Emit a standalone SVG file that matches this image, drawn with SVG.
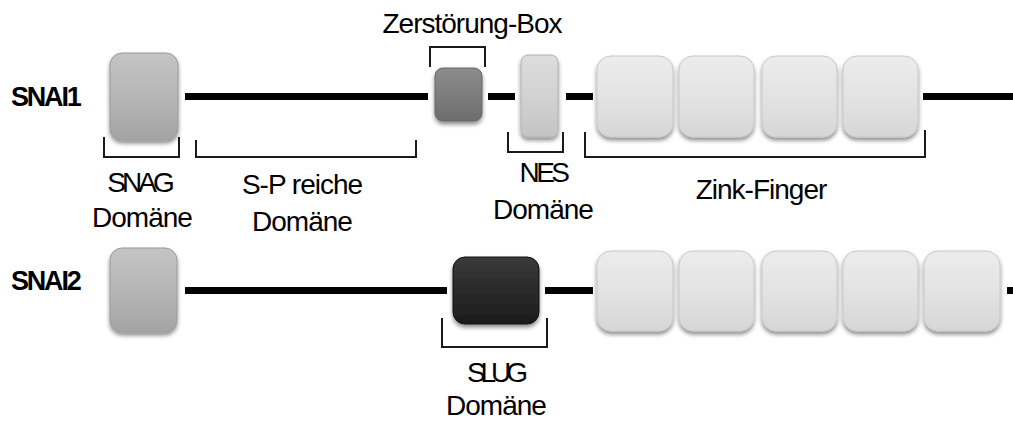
<svg xmlns="http://www.w3.org/2000/svg" width="1013" height="421" viewBox="0 0 1013 421">
  <style>
    .bb { fill: none; stroke: #1a1a1a; stroke-width: 2; }
    .ln { stroke: #000; stroke-width: 7; }
    .lbl { font-family: "Liberation Sans", Arial, sans-serif; font-size: 28px; fill: #000; text-anchor: middle; letter-spacing: -1px; }
    .tight { letter-spacing: -4px; }
    .row { font-family: "Liberation Sans", Arial, sans-serif; font-size: 27px; font-weight: bold; fill: #000; letter-spacing: -2.2px; }
    .sh { filter: url(#shadow); }
  </style>
  <defs>
    <filter id="shadow" x="-20%" y="-20%" width="140%" height="150%">
      <feGaussianBlur in="SourceAlpha" stdDeviation="2"/>
      <feOffset dy="3" result="b"/>
      <feComponentTransfer><feFuncA type="linear" slope="0.45"/></feComponentTransfer>
      <feMerge><feMergeNode/><feMergeNode in="SourceGraphic"/></feMerge>
    </filter>
    <linearGradient id="gMid" x1="0" y1="0" x2="0" y2="1">
      <stop offset="0" stop-color="#c4c4c4"/>
      <stop offset="0.5" stop-color="#b6b6b6"/>
      <stop offset="1" stop-color="#a4a4a4"/>
    </linearGradient>
    <linearGradient id="gDark" x1="0" y1="0" x2="0" y2="1">
      <stop offset="0" stop-color="#8c8c8c"/>
      <stop offset="0.5" stop-color="#7e7e7e"/>
      <stop offset="1" stop-color="#6c6c6c"/>
    </linearGradient>
    <linearGradient id="gLight" x1="0" y1="0" x2="0" y2="1">
      <stop offset="0" stop-color="#ececec"/>
      <stop offset="0.5" stop-color="#e3e3e3"/>
      <stop offset="1" stop-color="#d6d6d6"/>
    </linearGradient>
    <linearGradient id="gNes" x1="0" y1="0" x2="0" y2="1">
      <stop offset="0" stop-color="#dcdcdc"/>
      <stop offset="0.5" stop-color="#d2d2d2"/>
      <stop offset="1" stop-color="#c4c4c4"/>
    </linearGradient>
    <linearGradient id="gBlack" x1="0" y1="0" x2="0" y2="1">
      <stop offset="0" stop-color="#3a3a3a"/>
      <stop offset="0.5" stop-color="#2a2a2a"/>
      <stop offset="1" stop-color="#1c1c1c"/>
    </linearGradient>
  </defs>
  <rect width="1013" height="421" fill="#fff"/>

  <!-- backbone lines -->
  <g id="connectors">
    <line class="ln" x1="185" y1="96.5" x2="428" y2="96.5"/>
    <line class="ln" x1="488" y1="96.5" x2="515" y2="96.5"/>
    <line class="ln" x1="566" y1="96.5" x2="593" y2="96.5"/>
    <line class="ln" x1="923" y1="96.5" x2="1013" y2="96.5"/>
    <line class="ln" x1="185" y1="290.5" x2="447" y2="290.5"/>
    <line class="ln" x1="545" y1="290.5" x2="593" y2="290.5"/>
    <line class="ln" x1="1007" y1="290.5" x2="1013" y2="290.5"/>
  </g>

  <!-- SNAI1 -->
  <g id="snai1-label"><text class="row" x="11" y="106">SNAI1</text></g>
  <g id="snai1-snag">
    <rect class="sh" x="110" y="53" width="68" height="87" rx="12" fill="url(#gMid)" stroke="#9a9a9a" stroke-width="1"/>
    <path class="bb" d="M104 137 V157 H179 V137"/>
    <text class="lbl tight" x="139" y="192">SNAG</text>
    <text class="lbl" x="142" y="227">Domäne</text>
  </g>
  <g id="snai1-sp">
    <path class="bb" d="M196 140 V157 H416 V140"/>
    <text class="lbl" x="302" y="194">S-P reiche</text>
    <text class="lbl" x="302" y="231">Domäne</text>
  </g>
  <g id="snai1-destruction">
    <rect class="sh" x="435" y="68" width="47" height="53" rx="8" fill="url(#gDark)" stroke="#666" stroke-width="1"/>
    <path class="bb" d="M430 67 V47 H485 V67"/>
    <text class="lbl" x="472" y="33">Zerstörung-Box</text>
  </g>
  <g id="snai1-nes">
    <rect class="sh" x="521" y="55" width="37" height="82" rx="7" fill="url(#gNes)" stroke="#b0b0b0" stroke-width="1"/>
    <path class="bb" d="M508 132 V152 H563 V132"/>
    <text class="lbl" x="543" y="182" style="letter-spacing:-3.5px">NES</text>
    <text class="lbl" x="543" y="219">Domäne</text>
  </g>
  <g id="snai1-zinc">
    <rect class="sh" x="597" y="56" width="76" height="81" rx="14" fill="url(#gLight)" stroke="#c8c8c8" stroke-width="1"/>
    <rect class="sh" x="679" y="56" width="75" height="81" rx="14" fill="url(#gLight)" stroke="#c8c8c8" stroke-width="1"/>
    <rect class="sh" x="762" y="56" width="75" height="81" rx="14" fill="url(#gLight)" stroke="#c8c8c8" stroke-width="1"/>
    <rect class="sh" x="843" y="56" width="75" height="81" rx="14" fill="url(#gLight)" stroke="#c8c8c8" stroke-width="1"/>
    <path class="bb" d="M585 132 V157 H925 V130"/>
    <text class="lbl" x="761" y="199">Zink-Finger</text>
  </g>

  <!-- SNAI2 -->
  <g id="snai2-label"><text class="row" x="11" y="290">SNAI2</text></g>
  <g id="snai2-snag">
    <rect class="sh" x="110" y="248" width="67" height="84" rx="12" fill="url(#gMid)" stroke="#9a9a9a" stroke-width="1"/>
  </g>
  <g id="snai2-slug">
    <rect class="sh" x="453" y="257" width="86" height="67" rx="12" fill="url(#gBlack)" stroke="#111" stroke-width="1"/>
    <path class="bb" d="M442 318 V347 H547 V318"/>
    <text class="lbl" x="495" y="382" style="letter-spacing:-5px">SLUG</text>
    <text class="lbl" x="496" y="415">Domäne</text>
  </g>
  <g id="snai2-zinc">
    <rect class="sh" x="597" y="251" width="76" height="80" rx="14" fill="url(#gLight)" stroke="#c8c8c8" stroke-width="1"/>
    <rect class="sh" x="679" y="251" width="75" height="80" rx="14" fill="url(#gLight)" stroke="#c8c8c8" stroke-width="1"/>
    <rect class="sh" x="762" y="251" width="75" height="80" rx="14" fill="url(#gLight)" stroke="#c8c8c8" stroke-width="1"/>
    <rect class="sh" x="843" y="251" width="75" height="80" rx="14" fill="url(#gLight)" stroke="#c8c8c8" stroke-width="1"/>
    <rect class="sh" x="924" y="251" width="76" height="80" rx="14" fill="url(#gLight)" stroke="#c8c8c8" stroke-width="1"/>
  </g>
</svg>
